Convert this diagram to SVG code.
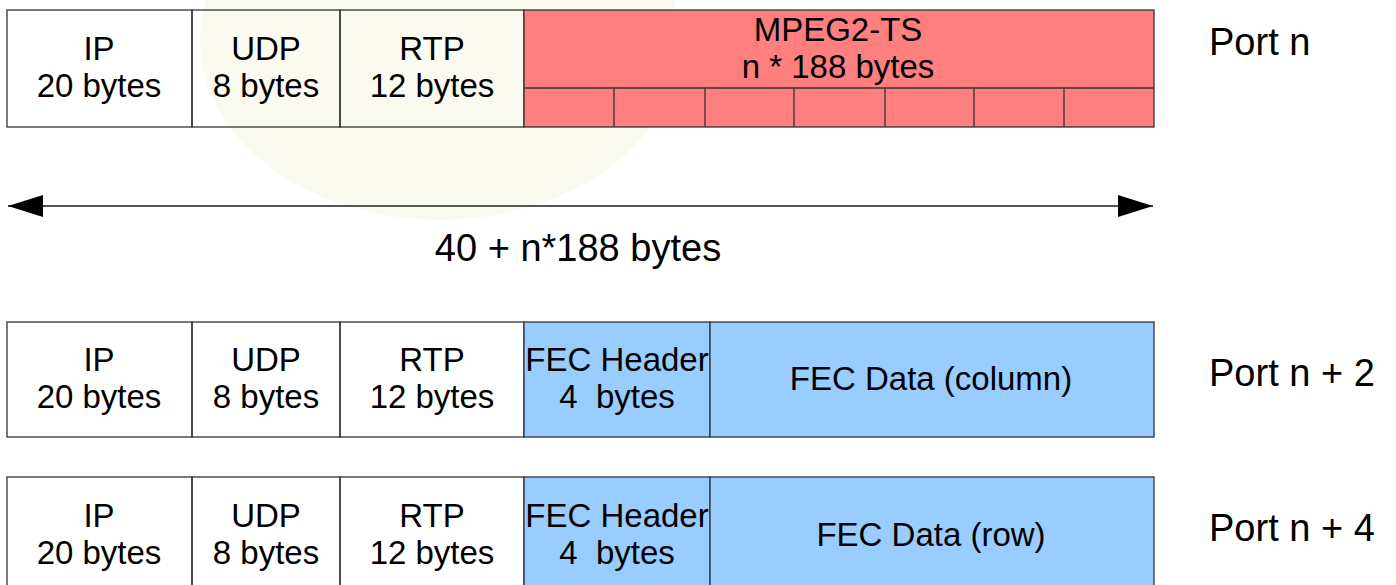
<svg xmlns="http://www.w3.org/2000/svg" width="1396" height="585" viewBox="0 0 1396 585">
<style>
text{font-family:"Liberation Sans",Arial,sans-serif;font-size:33px;fill:#000;text-anchor:middle}
.port{font-size:38px;text-anchor:start}
.big{font-size:38px}
.c{fill:none;stroke:#333;stroke-width:1.3}
.red{fill:#FF7F7F;stroke:#333;stroke-width:1.3}
.blue{fill:#99CCFF;stroke:#333;stroke-width:1.3}
.ln{stroke:#333;stroke-width:1.3}
</style>
<defs>
<marker id="ah" viewBox="0 0 10 10" refX="10" refY="5" markerWidth="35" markerHeight="22" markerUnits="userSpaceOnUse" orient="auto-start-reverse" preserveAspectRatio="none"><path d="M0,0 L10,5 L0,10 Z" fill="#000"/></marker>
</defs>
<rect width="1396" height="585" fill="#fff"/>
<ellipse cx="440" cy="40" rx="240" ry="180" fill="#FAFAF1"/>

<g id="row1">
<g id="r1-ip"><rect class="c" x="7" y="10" width="185" height="117"/><text x="99" y="60">IP</text><text x="99" y="97">20 bytes</text></g>
<g id="r1-udp"><rect class="c" x="192" y="10" width="148" height="117"/><text x="266" y="60">UDP</text><text x="266" y="97">8 bytes</text></g>
<g id="r1-rtp"><rect class="c" x="340" y="10" width="184" height="117"/><text x="432" y="60">RTP</text><text x="432" y="97">12 bytes</text></g>
<g id="r1-mpeg"><rect class="red" x="524" y="10" width="630" height="117"/>
<line class="ln" x1="524" y1="88" x2="1154" y2="88"/>
<line class="ln" x1="614" y1="88" x2="614" y2="127"/>
<line class="ln" x1="705" y1="88" x2="705" y2="127"/>
<line class="ln" x1="794" y1="88" x2="794" y2="127"/>
<line class="ln" x1="885" y1="88" x2="885" y2="127"/>
<line class="ln" x1="974" y1="88" x2="974" y2="127"/>
<line class="ln" x1="1064" y1="88" x2="1064" y2="127"/>
<text x="838" y="41">MPEG2-TS</text><text x="838" y="78">n * 188 bytes</text></g>
<text id="port-n" class="port" x="1209" y="55">Port n</text>
</g>

<g id="connectors">
<line x1="8" y1="206" x2="1153" y2="206" stroke="#555" stroke-width="2" marker-start="url(#ah)" marker-end="url(#ah)"/>
</g>
<text id="total" class="big" x="578" y="261">40 + n*188 bytes</text>

<g id="row2">
<g id="r2-ip"><rect class="c" x="7" y="322" width="185" height="115"/><text x="99" y="371">IP</text><text x="99" y="408">20 bytes</text></g>
<g id="r2-udp"><rect class="c" x="192" y="322" width="148" height="115"/><text x="266" y="371">UDP</text><text x="266" y="408">8 bytes</text></g>
<g id="r2-rtp"><rect class="c" x="340" y="322" width="184" height="115"/><text x="432" y="371">RTP</text><text x="432" y="408">12 bytes</text></g>
<g id="r2-fech"><rect class="blue" x="524" y="322" width="186" height="115"/><text x="617" y="371">FEC Header</text><text x="617" y="408" xml:space="preserve">4  bytes</text></g>
<g id="r2-fecd"><rect class="blue" x="710" y="322" width="444" height="115"/><text x="931" y="390">FEC Data (column)</text></g>
<text id="port-n2" class="port" x="1209" y="386">Port n + 2</text>
</g>

<g id="row3">
<g id="r3-ip"><rect class="c" x="7" y="477" width="185" height="115"/><text x="99" y="527">IP</text><text x="99" y="564">20 bytes</text></g>
<g id="r3-udp"><rect class="c" x="192" y="477" width="148" height="115"/><text x="266" y="527">UDP</text><text x="266" y="564">8 bytes</text></g>
<g id="r3-rtp"><rect class="c" x="340" y="477" width="184" height="115"/><text x="432" y="527">RTP</text><text x="432" y="564">12 bytes</text></g>
<g id="r3-fech"><rect class="blue" x="524" y="477" width="186" height="115"/><text x="617" y="527">FEC Header</text><text x="617" y="564" xml:space="preserve">4  bytes</text></g>
<g id="r3-fecd"><rect class="blue" x="710" y="477" width="444" height="115"/><text x="931" y="546">FEC Data (row)</text></g>
<text id="port-n4" class="port" x="1209" y="541">Port n + 4</text>
</g>
</svg>
